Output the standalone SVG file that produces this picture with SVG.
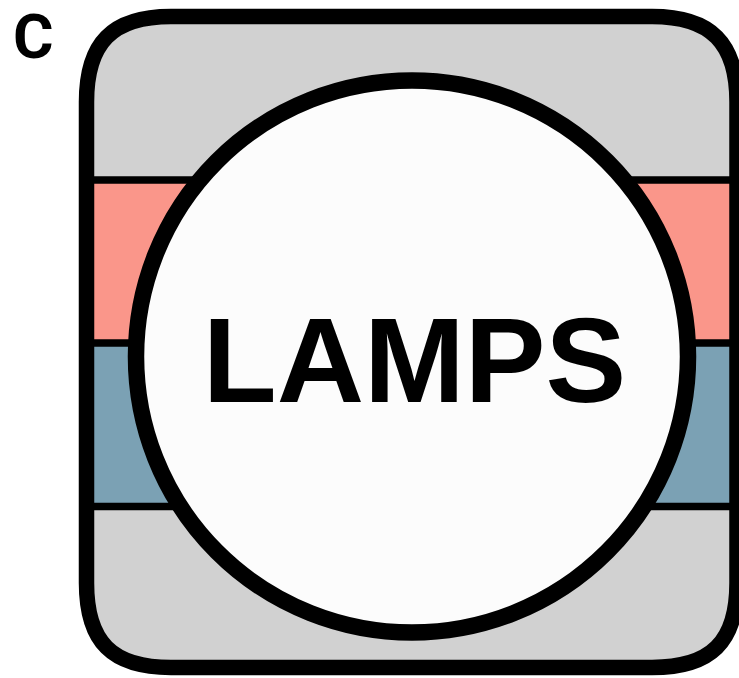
<svg xmlns="http://www.w3.org/2000/svg" width="739" height="678" viewBox="0 0 739 678">
<defs><clipPath id="c"><path id="f" d="M86.500 102C86.500 43 112 16.500 171 16.500H652C711 16.500 737 43 737 102V583C737 642 711 667.500 652 667.500H171C112 667.500 86.500 642 86.500 583Z"/></clipPath></defs>
<style>.l{stroke:#000;stroke-width:7.500;fill:none}text{fill:#000}</style>
<rect width="739" height="678" fill="#fff"/>
<g id="panel" clip-path="url(#c)">
<rect x="80" y="10" width="660" height="170" fill="#d1d1d1"/>
<rect x="80" y="180" width="660" height="163" fill="#fa968a"/>
<rect x="80" y="343" width="660" height="163" fill="#7ba1b4"/>
<rect x="80" y="506" width="660" height="165" fill="#d1d1d1"/>
<path class="l" d="M80 180H740M80 343H740M80 506.500H740"/>
</g>
<use id="frame" href="#f" fill="none" stroke="#000" stroke-width="15.500"/>
<g id="lamps">
<circle cx="412" cy="356.500" r="276" fill="#fcfcfc" stroke="#000" stroke-width="16.500"/>
<text x="414.500" y="402" text-anchor="middle" font-family="Liberation Sans, Arial, sans-serif" font-weight="700" font-size="121">LAMPS</text>
</g>
<text id="label" x="13" y="57.600" font-family="Roboto, Open Sans, sans-serif" font-weight="700" font-size="62">C</text>
</svg>
